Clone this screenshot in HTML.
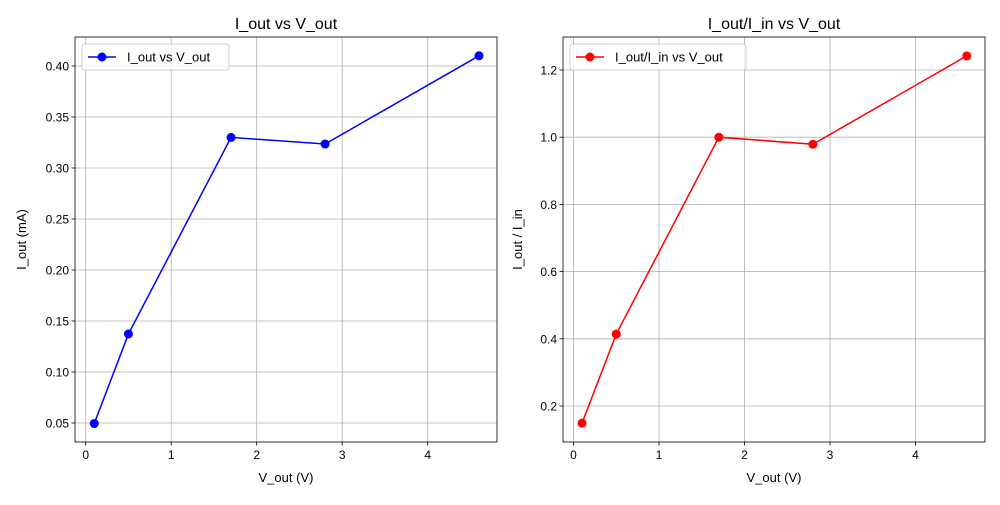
<!DOCTYPE html>
<html><head><meta charset="utf-8"><style>
body{margin:0;background:#fff}
svg{font-family:"Liberation Sans","DejaVu Sans",sans-serif}
</style></head><body>
<svg id="chart" width="1000" height="500"></svg>
<script>
const vout = [0.1, 0.5, 1.7, 2.8, 4.6];
const iout = [0.0495, 0.1373, 0.330, 0.3235, 0.410];
const ratio = [0.149, 0.414, 1.0, 0.979, 1.242];
const xTicks = [0, 1, 2, 3, 4];
const yTicksL = [0.05, 0.10, 0.15, 0.20, 0.25, 0.30, 0.35, 0.40];
const yTicksR = [0.2, 0.4, 0.6, 0.8, 1.0, 1.2];

const svg = document.getElementById('chart');
const NS = 'http://www.w3.org/2000/svg';
function mk(tag, attrs, parent, text){
  const e = document.createElementNS(NS, tag);
  for (const k in attrs) e.setAttribute(k, attrs[k]);
  if (text !== undefined) e.textContent = text;
  (parent || svg).appendChild(e);
  return e;
}

function panel(cfg){
  const g = mk('g', {});
  
  
  const L = cfg.left, R = cfg.right, T = 37, B = 442;
  const sx = v => cfg.x0 + v * cfg.xs;
  const sy = v => cfg.y0 - (v - cfg.yref) * cfg.ys;
  // grid
  xTicks.forEach(t => {
    const x = sx(t);
    const gl = mk('line', {x1:x, x2:x, y1:T, y2:B, stroke:'#b0b0b0', 'stroke-width':0.8}, g);
    
    
    mk('line', {x1:x, x2:x, y1:B, y2:B+3.5, stroke:'#000', 'stroke-width':0.8}, g);
    const tl = mk('text', {x:x, y:B+17, 'font-size':12, 'text-anchor':'middle'}, g, String(t));
    
    
  });
  cfg.yTicks.forEach(t => {
    const y = sy(t);
    const gl = mk('line', {x1:L, x2:R, y1:y, y2:y, stroke:'#b0b0b0', 'stroke-width':0.8}, g);
    
    
    mk('line', {x1:L-3.5, x2:L, y1:y, y2:y, stroke:'#000', 'stroke-width':0.8}, g);
    const tl = mk('text', {x:L-6, y:y+4.5, 'font-size':12, 'text-anchor':'end'}, g, t.toFixed(cfg.dec));
    
    
  });
  // series
  const pts = vout.map((v,i) => sx(v) + ',' + sy(cfg.data[i])).join(' ');
  const line = mk('polyline', {points:pts, fill:'none', stroke:cfg.color, 'stroke-width':1.5}, g);
  
  
  vout.forEach((v,i) => {
    const c = mk('circle', {cx:sx(v), cy:sy(cfg.data[i]), r:4.5, fill:cfg.color}, g);
    
    
  });
  // frame
  mk('rect', {x:L, y:T, width:R-L, height:B-T, fill:'none', stroke:'#000', 'stroke-width':0.8}, g);
  const title = mk('text', {x:(L+R)/2, y:29, 'font-size':16, 'text-anchor':'middle'}, g, cfg.title);
  
  
  const xl = mk('text', {x:(L+R)/2, y:482, 'font-size':13, 'text-anchor':'middle'}, g, 'V_out (V)');
  
  
  const cy = (T+B)/2;
  const yl = mk('text', {x:cfg.ylx, y:cy, 'font-size':13, 'text-anchor':'middle', transform:'rotate(-90 '+cfg.ylx+' '+cy+')'}, g, cfg.ylabel);
  
  
  // legend
  const lg = mk('g', {}, g);
  
  
  mk('rect', {x:L+7, y:44, width:cfg.legW, height:26, rx:3, fill:'#fff', 'fill-opacity':0.8, stroke:'#ccc'}, lg);
  mk('line', {x1:L+13, x2:L+41, y1:57, y2:57, stroke:cfg.color, 'stroke-width':1.5}, lg);
  mk('circle', {cx:L+27, cy:57, r:4.5, fill:cfg.color}, lg);
  mk('text', {x:L+52, y:61.5, 'font-size':13}, lg, cfg.legend);
}

panel({name:'left-panel', left:75, right:497, x0:85.7, xs:85.5, y0:423, yref:0.05, ys:1020,
  yTicks:yTicksL, dec:2, data:iout, color:'#0000ff', title:'I_out vs V_out', ylabel:'I_out (mA)',
  ylx:26, legend:'I_out vs V_out', legW:147});
panel({name:'right-panel', left:563, right:985, x0:573.5, xs:85.5, y0:406, yref:0.2, ys:336,
  yTicks:yTicksR, dec:1, data:ratio, color:'#ff0000', title:'I_out/I_in vs V_out', ylabel:'I_out / I_in',
  ylx:522, legend:'I_out/I_in vs V_out', legW:176});
</script>
</body></html>
